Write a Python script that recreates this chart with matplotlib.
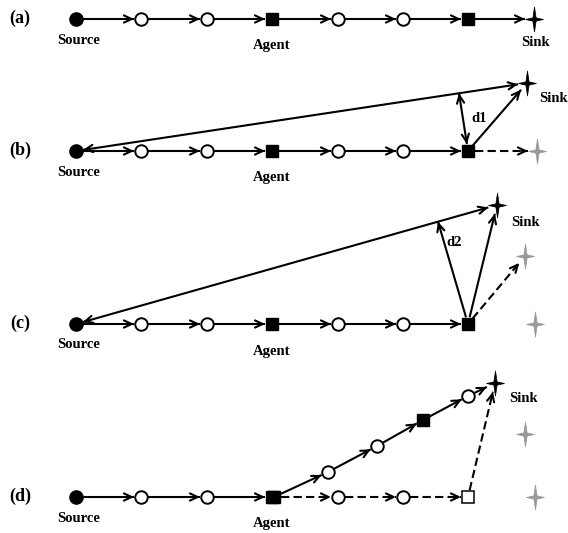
import numpy as np
import matplotlib
matplotlib.use("Agg")
import matplotlib.pyplot as plt
from matplotlib.path import Path

W, H = 568, 533

# Panel labels and the baseline height of each panel
panel_labels = ["(a)", "(b)", "(c)", "(d)"]
row_y = [19, 151, 324, 497]

# Node x positions along the forwarding chain (source ... sink)
chain_x = [76, 141, 207, 272, 338, 403, 468]
# kind of each chain node: src = source, rel = relay, agt = agent
chain_kind = ["src", "rel", "rel", "agt", "rel", "rel", "agt"]
sink_a_x = 534

# (b): moved sink, its old spot and the d1 foot on the source-sink line
sink_b = (527, 83)
old_sink_b = (537, 151)
d1_x = 459

# (c): moved sink, intermediate and original sink positions, d2 foot
sink_c = (497, 205)
old_sinks_c = [(525, 256), (535, 324)]
d2_x = 438

# (d): new route from the agent to the sink, and the abandoned route
sink_d = (495, 383)
old_sinks_d = [(525, 434), (535, 497)]
new_route = [(274, 497), (328, 472), (377, 446), (423, 420), (468, 396), sink_d]
new_kind = ["agt", "rel", "rel", "agt", "rel", "sink"]
old_route = [(274, 497), (338, 497), (403, 497), (468, 497)]

BLACK = "#000000"
GREY = "#999999"
LW = 1.5

star_path = Path([(0, 1), (0.13, 0.13), (0.72, 0), (0.13, -0.13), (0, -1),
                  (-0.13, -0.13), (-0.72, 0), (-0.13, 0.13), (0, 1)],
                 closed=True)

fig = plt.figure(figsize=(W / 100, H / 100), dpi=100)
ax = fig.add_axes([0, 0, 1, 1])
ax.set_xlim(0, W)
ax.set_ylim(H, 0)
ax.axis("off")

RADIUS = {"src": 7, "rel": 7, "agt": 7, "sink": 9, "osq": 7, "pt": 0, "gstar": 9}


def node(p, kind):
    x, y = p
    if kind == "src":
        ax.plot(x, y, "o", ms=9.5, mfc=BLACK, mec=BLACK, zorder=5)
    elif kind == "rel":
        ax.plot(x, y, "o", ms=9, mfc="white", mec=BLACK, mew=1.4, zorder=5)
    elif kind == "agt":
        ax.plot(x, y, "s", ms=8.5, mfc=BLACK, mec=BLACK, zorder=5)
    elif kind == "osq":
        ax.plot(x, y, "s", ms=8, mfc="white", mec=BLACK, mew=1.1, zorder=5)
    elif kind == "sink":
        ax.plot(x, y, marker=star_path, ms=18, mfc=BLACK, mec=BLACK, mew=0.5, zorder=5)
    elif kind == "gstar":
        ax.plot(x, y, marker=star_path, ms=18, mfc=GREY, mec=GREY, mew=0.5, zorder=5)


def arrow(p, q, ka="pt", kb="pt", dashed=False, both=False, head=True):
    p = np.array(p, float)
    q = np.array(q, float)
    u = (q - p) / np.linalg.norm(q - p)
    a = p + u * RADIUS[ka]
    b = q - u * RADIUS[kb]
    ax.plot([a[0], b[0]], [a[1], b[1]], color=BLACK, lw=LW,
            ls=(0, (4, 2)) if dashed else "-", zorder=3, solid_capstyle="butt")
    props = dict(arrowstyle="->,head_length=0.55,head_width=0.26", lw=LW,
                 color=BLACK, shrinkA=0, shrinkB=0)
    if head:
        ax.annotate("", xy=tuple(b), xytext=tuple(b - u * 6), arrowprops=props, zorder=4)
    if both:
        ax.annotate("", xy=tuple(a), xytext=tuple(a + u * 6), arrowprops=props, zorder=4)


def on_line(p, q, x):
    t = (x - p[0]) / (q[0] - p[0])
    return (x, p[1] + t * (q[1] - p[1]))


def label(x, y, s, ha="center", size=10.5):
    ax.text(x, y, s, ha=ha, va="center", fontsize=size, fontweight="bold",
            family="Liberation Serif", color=BLACK)


def chain(y, last):
    pts = [(x, y) for x in chain_x[:last]]
    kinds = chain_kind[:last]
    for i in range(len(pts) - 1):
        arrow(pts[i], pts[i + 1], kinds[i], kinds[i + 1])
    for p, k in zip(pts, kinds):
        node(p, k)
    label(chain_x[0] + 3, y + 21, "Source")
    label(chain_x[3], y + 27, "Agent")
    return pts


# (a) original route
y = row_y[0]
pts = chain(y, 7)
arrow(pts[-1], (sink_a_x, y), "agt", "sink")
node((sink_a_x, y), "sink")
label(sink_a_x + 1, y + 23, "Sink")

# (b) sink moves a little: agent reroutes directly
y = row_y[1]
pts = chain(y, 7)
src, agt = pts[0], pts[-1]
arrow(src, sink_b, "src", "sink", both=True)
foot = on_line(src, sink_b, d1_x)
arrow(foot, agt, "pt", "agt", both=True)
arrow(agt, sink_b, "agt", "sink")
arrow(agt, old_sink_b, "agt", "gstar", dashed=True)
node(sink_b, "sink")
node(old_sink_b, "gstar")
label(539, 98, "Sink", ha="left")
label(471, 118, "d1", ha="left")

# (c) sink moves further away
y = row_y[2]
pts = chain(y, 7)
src, agt = pts[0], pts[-1]
arrow(src, sink_c, "src", "sink", both=True)
foot = on_line(src, sink_c, d2_x)
arrow(agt, foot, "agt", "pt")
arrow(agt, sink_c, "agt", "sink")
arrow(agt, old_sinks_c[0], "agt", "gstar", dashed=True)
node(sink_c, "sink")
for s in old_sinks_c:
    node(s, "gstar")
label(511, 222, "Sink", ha="left")
label(446, 243, "d2", ha="left")

# (d) route rebuilt from the upstream agent
y = row_y[3]
pts = chain(y, 4)
for i in range(len(new_route) - 1):
    arrow(new_route[i], new_route[i + 1], new_kind[i], new_kind[i + 1])
old_kind = ["agt", "rel", "rel", "osq"]
for i in range(len(old_route) - 1):
    arrow(old_route[i], old_route[i + 1], old_kind[i], old_kind[i + 1], dashed=True)
arrow(old_route[-1], sink_d, "osq", "sink", dashed=True)
for p, k in zip(new_route, new_kind):
    node(p, k)
for p, k in zip(old_route[1:], old_kind[1:]):
    node(p, k)
for s in old_sinks_d:
    node(s, "gstar")
label(509, 398, "Sink", ha="left")

for lab, yy in zip(panel_labels, row_y):
    label(20, yy - 1, lab, size=13)

fig.savefig("out.png", dpi=100)
